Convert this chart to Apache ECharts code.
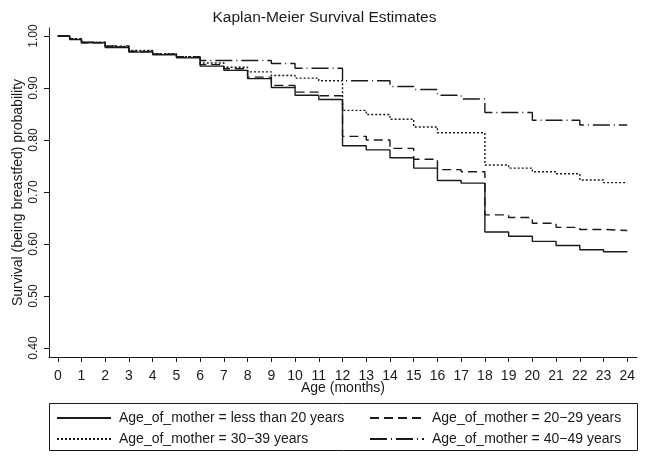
<!DOCTYPE html>
<html>
<head>
<meta charset="utf-8">
<script src="https://cdn.jsdelivr.net/npm/echarts@6/dist/echarts.min.js"></script>
<style>
html,body{margin:0;padding:0;background:#fff;}
#chart{width:649px;height:462px;}
</style>
</head>
<body>
<div id="chart"></div>
<script>
// Time points (months) at which the survival estimate changes
const times = [0, 0.5, 1, 2, 3, 4, 5, 6, 7, 8, 9, 10, 11, 12, 13, 14, 15, 16, 17, 18, 19, 20, 21, 22, 23, 24];

const seriesNames = [
  'Age_of_mother = less than 20 years',
  'Age_of_mother = 20\u221229 years',
  'Age_of_mother = 30\u221239 years',
  'Age_of_mother = 40\u221249 years'
];

const survLess20 = [1.000, 0.993, 0.987, 0.978, 0.969, 0.964, 0.958, 0.942, 0.934, 0.918, 0.901, 0.886, 0.878, 0.789, 0.781, 0.766, 0.746, 0.722, 0.717, 0.623, 0.615, 0.605, 0.597, 0.589, 0.585, 0.585];
const surv20to29 = [1.000, 0.994, 0.987, 0.979, 0.970, 0.965, 0.959, 0.945, 0.937, 0.921, 0.905, 0.892, 0.885, 0.807, 0.800, 0.784, 0.763, 0.743, 0.739, 0.656, 0.651, 0.640, 0.632, 0.628, 0.626, 0.626];
const surv30to39 = [1.000, 0.995, 0.988, 0.980, 0.972, 0.966, 0.960, 0.948, 0.940, 0.931, 0.924, 0.919, 0.914, 0.857, 0.849, 0.840, 0.825, 0.814, 0.814, 0.752, 0.746, 0.739, 0.735, 0.723, 0.718, 0.718];
const surv40to49 = [1.000, 0.995, 0.988, 0.981, 0.971, 0.965, 0.960, 0.953, 0.953, 0.953, 0.947, 0.938, 0.938, 0.914, 0.914, 0.903, 0.897, 0.886, 0.879, 0.853, 0.853, 0.838, 0.838, 0.829, 0.829, 0.829];

const xTicks = [0,1,2,3,4,5,6,7,8,9,10,11,12,13,14,15,16,17,18,19,20,21,22,23,24];
const yTicks = [0.4, 0.5, 0.6, 0.7, 0.8, 0.9, 1.0];

const FONT = '"Liberation Sans", Arial, Helvetica, sans-serif';
const INK = '#1a1a1a';

function pairs(vals) { return times.map((t, i) => [t, vals[i]]); }

const dashTypes = ['solid', [9, 5], [2, 2], [17, 4, 1, 4]];
const allVals = [survLess20, surv20to29, surv30to39, surv40to49];

const series = allVals.map((v, i) => ({
  name: seriesNames[i],
  type: 'line',
  step: 'end',
  data: pairs(v),
  showSymbol: false,
  symbol: 'none',
  animation: false,
  lineStyle: { color: INK, width: 1.4, type: dashTypes[i] },
  itemStyle: { color: INK }
}));

const chart = echarts.init(document.getElementById('chart'), null, { renderer: 'canvas' });

const legendCommon = {
  orient: 'vertical',
  top: 411,
  itemWidth: 54,
  itemHeight: 14,
  itemGap: 7,
  itemStyle: { opacity: 0 },
  padding: 0,
  textStyle: { fontFamily: FONT, fontSize: 14, color: INK, padding: [0, 0, 0, 3] },
  selectedMode: false
};

chart.setOption({
  backgroundColor: '#fff',
  animation: false,
  title: {
    text: 'Kaplan-Meier Survival Estimates',
    left: 'center',
    top: 10,
    padding: 0,
    textStyle: { fontFamily: FONT, fontSize: 15.5, fontWeight: 'normal', color: INK }
  },
  legend: [
    Object.assign({}, legendCommon, { left: 56, data: [seriesNames[0], seriesNames[2]] }),
    Object.assign({}, legendCommon, { left: 369, data: [seriesNames[1], seriesNames[3]] })
  ],
  graphic: [{
    type: 'rect',
    shape: { x: 49.5, y: 403.5, width: 588, height: 47 },
    style: { fill: 'none', stroke: INK, lineWidth: 1 },
    silent: true
  }],
  grid: { left: 49, right: 12, top: 28, bottom: 105, containLabel: false },
  xAxis: {
    type: 'value',
    min: -0.37,
    max: 24.41,
    name: 'Age (months)',
    nameLocation: 'middle',
    nameGap: 24,
    nameMoveOverlap: false,
    nameTextStyle: { fontFamily: FONT, fontSize: 14, color: INK },
    splitLine: { show: false },
    axisLine: { show: true, onZero: false, lineStyle: { color: INK, width: 1 } },
    axisTick: { show: true, length: 5, customValues: xTicks, lineStyle: { color: INK } },
    axisLabel: { customValues: xTicks, fontFamily: FONT, fontSize: 14, color: INK, margin: 12.5 }
  },
  yAxis: {
    type: 'value',
    min: 0.3827,
    max: 1.0154,
    name: 'Survival (being breastfed) probability',
    nameLocation: 'middle',
    nameGap: 24,
    nameMoveOverlap: false,
    nameTextStyle: { fontFamily: FONT, fontSize: 14, color: INK },
    splitLine: { show: false },
    axisLine: { show: true, onZero: false, lineStyle: { color: INK, width: 1 } },
    axisTick: { show: true, length: 5, customValues: yTicks, lineStyle: { color: INK } },
    axisLabel: {
      customValues: yTicks,
      rotate: 90,
      fontFamily: FONT, fontSize: 12, color: INK, margin: 9.5,
      formatter: v => v.toFixed(2)
    }
  },
  series: series
});
</script>
</body>
</html>
